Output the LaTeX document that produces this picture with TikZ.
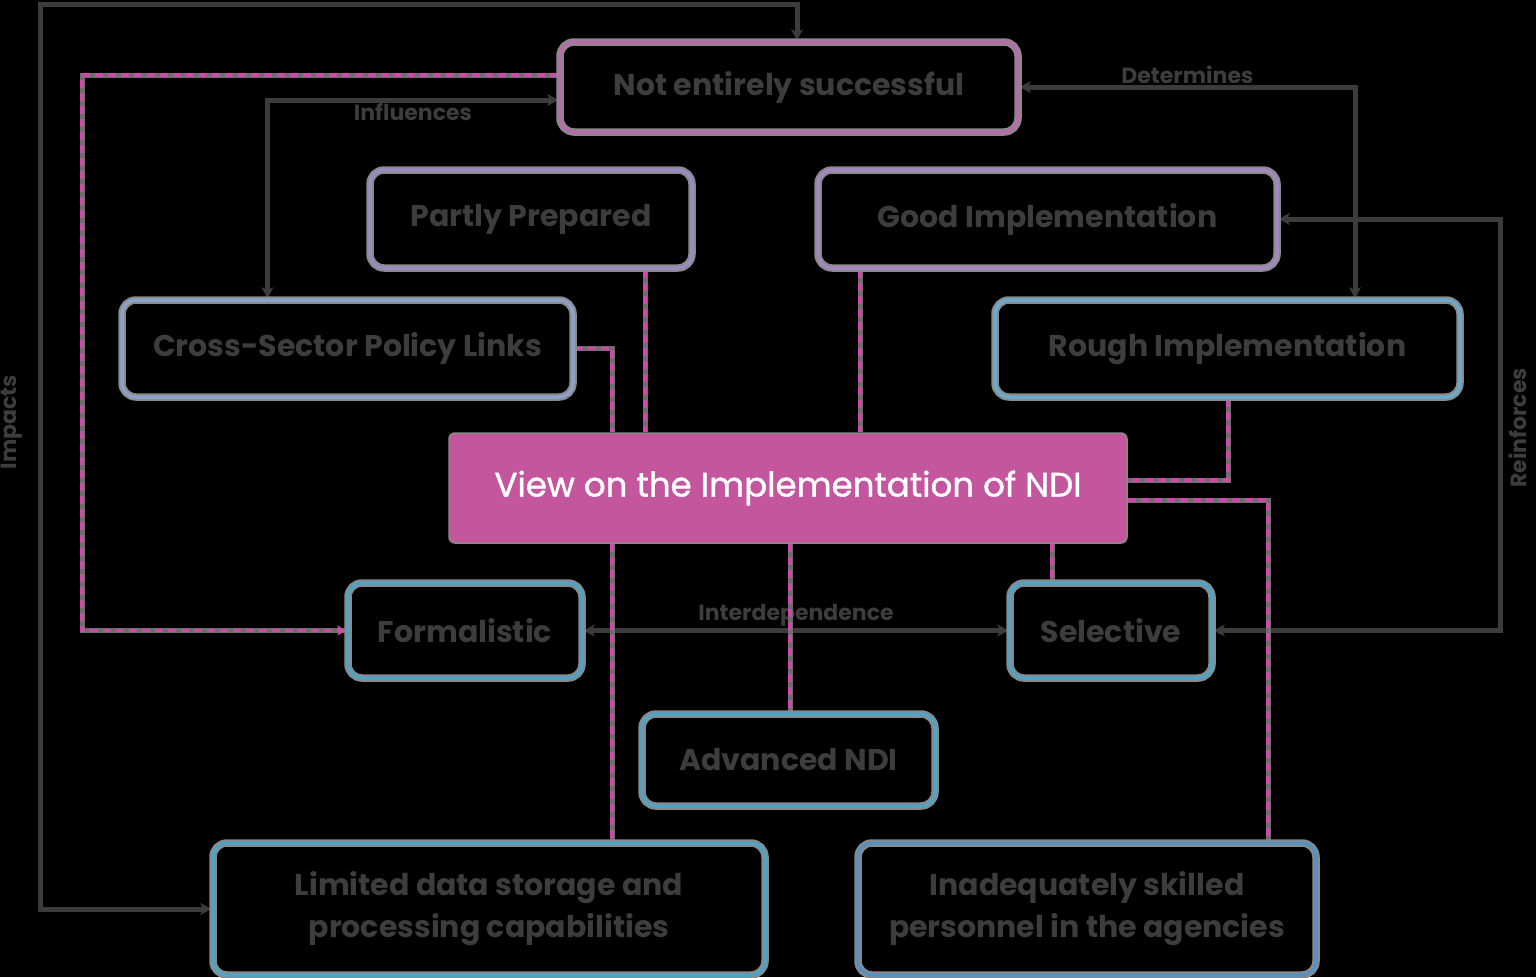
\documentclass[tikz,border=0pt]{standalone}
\usepackage{fontspec}
\setmainfont{Poppins}
\usetikzlibrary{arrows.meta,calc}
\pgfdeclarelayer{back}
\pgfdeclarelayer{conn}
\pgfsetlayers{back,conn,main}
\definecolor{txt}{HTML}{3D3D3D}
\definecolor{ln}{HTML}{3C3C3C}
\definecolor{halo}{HTML}{8A8A8A}
\definecolor{dhalo}{HTML}{6E6E6E}
\definecolor{cA}{HTML}{B86CAE}
\definecolor{cB}{HTML}{9A8BC2}
\definecolor{cC}{HTML}{A387C0}
\definecolor{cD}{HTML}{8DA2CB}
\definecolor{cE}{HTML}{6BAACE}
\definecolor{cT}{HTML}{4FA4C6}
\definecolor{cK}{HTML}{5591C2}
\definecolor{fillF}{HTML}{C4569E}
\definecolor{dpink}{HTML}{CC4AA8}
\begin{document}
\begin{tikzpicture}[x=1pt,y=-1pt,
  >={Stealth[length=11pt,width=12pt,inset=3pt]},
  box/.style={rounded corners=14pt, draw, line width=3.5pt, text=txt,
    font=\fontsize{30}{42}\selectfont\bfseries, align=center, inner sep=0pt,
    preaction={draw=halo, line width=7.5pt}},
  conn/.style={draw=ln, line width=5pt},
  dp/.style={draw=dpink, line width=3.5pt, dash pattern=on 8pt off 5pt,
    preaction={draw=dhalo, line width=5pt, solid, arrows=-}},
  dtip/.style={-{Stealth[length=9pt,width=10pt,inset=2pt]}},
  lbl/.style={text=txt, font=\fontsize{22}{26}\selectfont\bfseries, inner sep=0pt}]
\begin{pgfonlayer}{back}
\fill[black] (0,0) rectangle (1536,977);
\end{pgfonlayer}
\useasboundingbox (0,0) rectangle (1536,977);

% boxes
\node[box, draw=cA, minimum width=458pt, minimum height=90pt] (A) at (789,87) {Not entirely successful};
\node[box, draw=cB, minimum width=322pt, minimum height=98pt] (B) at (531,219) {Partly Prepared};
\node[box, draw=cC, minimum width=459pt, minimum height=98pt] (C) at (1047.5,219) {Good Implementation};
\node[box, draw=cD, minimum width=451pt, minimum height=97pt] (D) at (347.5,348.5) {Cross-Sector Policy Links};
\node[box, draw=cE, minimum width=465pt, minimum height=97pt] (E) at (1227.5,348.5) {Rough Implementation};
\node[fill=fillF, draw=halo, line width=1.5pt, rounded corners=6pt, minimum width=678pt, minimum height=110pt,
  text=white, font=\fontsize{34}{40}\selectfont\addfontfeature{FakeBold=1.2}, inner sep=0pt] (F) at (788,488) {View on the Implementation of NDI};
\node[box, draw=cT, minimum width=234pt, minimum height=95pt] (G) at (465,630.5) {Formalistic};
\node[box, draw=cT, minimum width=202pt, minimum height=95pt] (H) at (1111,630.5) {Selective};
\node[box, draw=cT, minimum width=293pt, minimum height=92pt] (I) at (788.5,760) {Advanced NDI};
\node[box, draw=cT, minimum width=552pt, minimum height=132pt] (J) at (489,909) {Limited data storage and\\processing capabilities};
\node[box, draw=cK, minimum width=458pt, minimum height=132pt] (K) at (1087,909) {Inadequately skilled\\personnel in the agencies};

\begin{pgfonlayer}{conn}
% solid connectors
\coordinate (tl) at (40,4);
\draw[conn,<->] (J.west) -| (tl) -| ($(A.north)+(8,0)$);
\node[lbl, rotate=90] (l5) at (12,422) {Impacts};
\draw[conn,<->] ($(D.north)+(-80,0)$) |- ($(A.west)+(0,13)$)
  node[lbl, pos=0.75, below=1pt] (l1) {Influences};
\draw[conn,<->] (A.east) -| ($(E.north)+(127.5,0)$)
  node[lbl, pos=0.25, above=1pt] (l2) {Determines};
\coordinate (rc) at (1500,420);
\draw[conn,<->] (C.east) -| (rc) |- (H.east);
\node[lbl, rotate=90] (l4) at (1518,428) {Reinforces};
\draw[conn,<->] (G.east) -- (H.west) node[lbl, midway, above=2pt] (l3) {Interdependence};

% dashed connectors
\coordinate (b1) at ($(B.south)+(114,0)$);
\coordinate (c1) at ($(C.south)+(-187.5,0)$);
\coordinate (e1) at ($(E.south)+(0.5,0)$);
\coordinate (g1) at ($(F.south)+(-176,0)$);
\coordinate (h1) at ($(F.south)+(2,0)$);
\coordinate (i1) at ($(F.south)+(264,0)$);
\coordinate (lc) at (82,400);
\draw[dp,dtip] ($(A.west)+(0,-12)$) -| (lc) |- (G.west);
\draw[dp] (D.east) -| ($(F.north)+(-176,0)$);
\draw[dp] (b1) -- (b1 |- F.north);
\draw[dp] (c1) -- (c1 |- F.north);
\draw[dp] (e1) |- ($(F.east)+(0,-8)$);
\draw[dp] ($(F.east)+(0,12)$) -| ($(K.north)+(181,0)$);
\draw[dp] (g1) -- (g1 |- J.north);
\draw[dp] (h1) -- (h1 |- I.north);
\draw[dp] (i1) -- (i1 |- H.north);
\end{pgfonlayer}
\end{tikzpicture}
\end{document}
